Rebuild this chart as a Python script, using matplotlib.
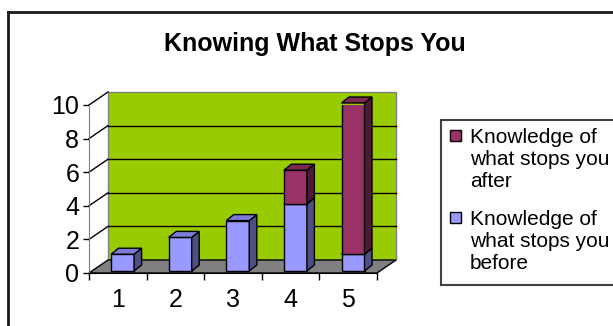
import numpy as np
import matplotlib
matplotlib.use("Agg")
import matplotlib.pyplot as plt
from matplotlib.patches import Polygon, Rectangle
from matplotlib.lines import Line2D

plt.rcParams['font.family'] = ['Liberation Sans', 'DejaVu Sans']

# data
categories = ["1", "2", "3", "4", "5"]
before = [1, 2, 3, 4, 1]
after = [0, 0, 0, 2, 9]
labels = ["Knowledge of\nwhat stops you\nafter", "Knowledge of\nwhat stops you\nbefore"]
y_ticks = [0, 2, 4, 6, 8, 10]
title = "Knowing What Stops You"

# colours (front, top, side)
before_cols = ("#9999FF", "#7C7CD6", "#4F4F85")
after_cols = ("#993366", "#7A2952", "#4D1A33")

W, H = 613, 326
fig = plt.figure(figsize=(W / 100, H / 100), dpi=100)


def fx(x):
    return x / W


def fy(y):
    return 1 - y / H


# front plane of the 3d box
ax = fig.add_axes([fx(89), fy(273), (377 - 89) / W, (273 - 105) / H])
ax.set_xlim(0.5, len(categories) + 0.5)
ax.set_ylim(0, 10)
ax.patch.set_visible(False)

px_x = 288 / len(categories)   # pixels per category
px_y = 168 / 10                # pixels per unit
DX, DY = 19 / px_x, 13 / px_y          # wall depth
OX, OY = 4.8 / px_x, 2 / px_y          # bar front offset
BX, BY = 7.5 / px_x, 6 / px_y          # bar depth
BW = 23 / px_x

x0, x1 = 0.5, len(categories) + 0.5

# back wall and floor
ax.add_patch(Polygon([(x0 + DX, DY), (x1 + DX, DY), (x1 + DX, 10 + DY), (x0 + DX, 10 + DY)],
                     closed=True, facecolor="#99CC00", edgecolor="#808080", lw=1, zorder=1, clip_on=False))
ax.add_patch(Polygon([(x0, 0), (x1, 0), (x1 + DX, DY), (x0 + DX, DY)],
                     closed=True, facecolor="#808080", edgecolor="black", lw=1, zorder=1.5, clip_on=False))
for v in y_ticks[1:]:
    ax.plot([x0, x0 + DX], [v, v + DY], color="black", lw=1, zorder=2, clip_on=False)
    if v < 10:
        ax.plot([x0 + DX, x1 + DX], [v + DY, v + DY], color="black", lw=1, zorder=2, clip_on=False)

xs = np.arange(1, len(categories) + 1)


def draw_3d(x, bottom, height, cols, z):
    if height <= 0:
        return
    left = x + OX - BW / 2
    right = x + OX + BW / 2
    b = bottom + OY
    t = bottom + height + OY
    ax.bar(x + OX, height, bottom=b, width=BW, color=cols[0], edgecolor="black", lw=1, zorder=z)
    ax.add_patch(Polygon([(right, b), (right + BX, b + BY), (right + BX, t + BY), (right, t)],
                         closed=True, facecolor=cols[2], edgecolor="black", lw=1, zorder=z, clip_on=False))
    ax.add_patch(Polygon([(left, t), (right, t), (right + BX, t + BY), (left + BX, t + BY)],
                         closed=True, facecolor=cols[1], edgecolor="black", lw=1, zorder=z, clip_on=False))


for i, x in enumerate(xs):
    draw_3d(x, 0, before[i], before_cols, 3)
    draw_3d(x, before[i], after[i], after_cols, 4)

# axes
for s in ["top", "right"]:
    ax.spines[s].set_visible(False)
ax.spines["left"].set_color("#808080")
ax.spines["bottom"].set_color("black")
ax.spines["left"].set_zorder(2.5)
ax.set_yticks(y_ticks)
ax.set_yticklabels([str(v) for v in y_ticks], fontsize=18)
ax.tick_params(axis="y", length=4, width=1, color="black", pad=3)
ax.set_xticks(xs)
ax.set_xticklabels(categories, fontsize=18)
ax.set_xticks(np.arange(0.5, len(categories) + 1), minor=True)
ax.tick_params(axis="x", which="major", length=0, pad=11)
ax.tick_params(axis="x", which="minor", length=5, width=1, color="black")

# title
fig.text(fx(315), fy(44), title, ha="center", va="center", fontsize=18, fontweight="bold")

# legend, drawn by hand like the excel one
fig.patches.append(Rectangle((fx(441), fy(285)), fx(260), (285 - 120) / H, transform=fig.transFigure,
                             facecolor="white", edgecolor="#404040", lw=1.5, zorder=0))
leg_cols = [after_cols[0], before_cols[0]]
leg_tops = [128, 210]
for col, lab, top in zip(leg_cols, labels, leg_tops):
    fig.patches.append(Rectangle((fx(450), fy(top + 13)), 11 / W, 11 / H, transform=fig.transFigure,
                                 facecolor=col, edgecolor="black", lw=1, zorder=2))
    fig.text(fx(470), fy(top), lab, ha="left", va="top", fontsize=15, linespacing=1.2)

# outer chart border (cut off at right / bottom)
fig.add_artist(Line2D([fx(8), fx(8)], [fy(12), 0], color="#1a1a1a", lw=2, transform=fig.transFigure))
fig.add_artist(Line2D([fx(8), 1], [fy(12), fy(12)], color="#1a1a1a", lw=2, transform=fig.transFigure))

fig.savefig("out.png", dpi=100)
